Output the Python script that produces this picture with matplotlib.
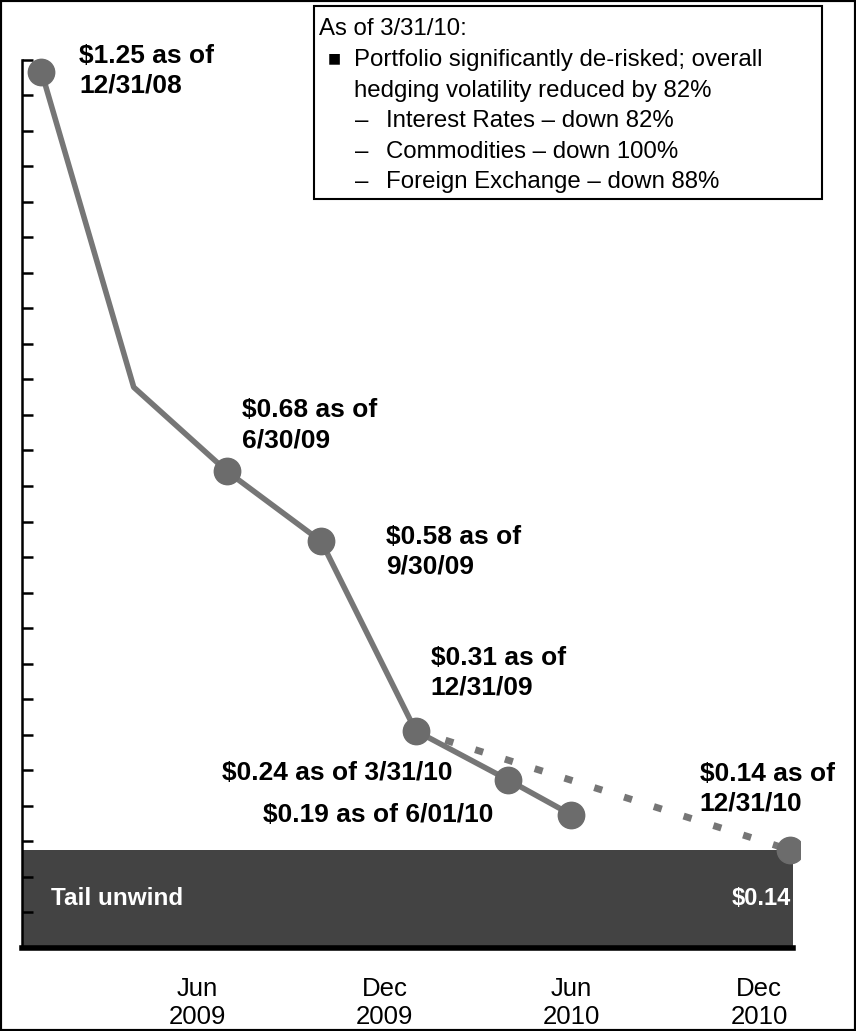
import datetime as dt
import matplotlib
matplotlib.use("Agg")
import matplotlib.pyplot as plt
import matplotlib.dates as mdates
from matplotlib.patches import Rectangle

plt.rcParams['font.family'] = ['Liberation Sans', 'DejaVu Sans']

# hedging volatility, $ per quarter-end
dates = [dt.date(2008, 12, 31), dt.date(2009, 3, 31), dt.date(2009, 6, 30),
         dt.date(2009, 9, 30), dt.date(2009, 12, 31), dt.date(2010, 3, 31),
         dt.date(2010, 6, 1)]
values = [1.25, 0.80, 0.68, 0.58, 0.31, 0.24, 0.19]

# projection to year end 2010
proj_dates = [dt.date(2009, 12, 31), dt.date(2010, 12, 31)]
proj_values = [0.31, 0.14]

# labelled points
lab_dates = [dt.date(2008, 12, 31), dt.date(2009, 6, 30), dt.date(2009, 9, 30),
             dt.date(2009, 12, 31), dt.date(2010, 3, 31), dt.date(2010, 6, 1),
             dt.date(2010, 12, 31)]
lab_values = [1.25, 0.68, 0.58, 0.31, 0.24, 0.19, 0.14]
lab_texts = ["$1.25 as of\n12/31/08", "$0.68 as of\n6/30/09", "$0.58 as of\n9/30/09",
             "$0.31 as of\n12/31/09", "$0.24 as of 3/31/10", "$0.19 as of 6/01/10",
             "$0.14 as of\n12/31/10"]
lab_offsets = [(38, 1, 'left'), (15, 46, 'left'), (65, -10, 'left'), (15, 58, 'left'),
               (-55, 7, 'right'), (-78, 0, 'right'), (-90, 61, 'left')]

tail_value = 0.14
tick_dates = [dt.date(2009, 6, 1), dt.date(2009, 12, 1), dt.date(2010, 6, 1), dt.date(2010, 12, 1)]
tick_labels = ["Jun\n2009", "Dec\n2009", "Jun\n2010", "Dec\n2010"]

box_lines = ["As of 3/31/10:",
             "Portfolio significantly de-risked; overall",
             "hedging volatility reduced by 82%",
             "Interest Rates \u2013 down 82%",
             "Commodities \u2013 down 100%",
             "Foreign Exchange \u2013 down 88%"]

W, H = 856, 1031
fig = plt.figure(figsize=(W / 100, H / 100), dpi=100)
ax = fig.add_axes([22 / W, 83 / H, 778 / W, 948 / H])

x0 = mdates.date2num(dt.date(2008, 12, 12))
x1 = mdates.date2num(dt.date(2011, 1, 10))
ax.set_xlim(x0, x1)
ax.set_ylim(0, 1.3524)

line_col = '#767676'
# tail unwind block
bar_end = mdates.date2num(dt.date(2011, 1, 3))
ax.bar(x0, tail_value, width=bar_end - x0, align='edge', color='#434343', zorder=1)
ax.text(x0 + 28, tail_value / 2, "Tail unwind", color='white', fontsize=17.5,
        fontweight='bold', va='center', ha='left')
ax.text(bar_end - 2, tail_value / 2, "$%.2f" % tail_value, color='white', fontsize=17,
        fontweight='bold', va='center', ha='right')

ax.plot(mdates.date2num(proj_dates), proj_values, color=line_col, lw=5,
        linestyle=(0, (1.2, 3.3)), zorder=2)
ax.plot(mdates.date2num(dates), values, color=line_col, lw=4, zorder=3)
ax.plot(mdates.date2num(lab_dates), lab_values, 'o', ms=19, color='#6c6c6c', zorder=4)

for d, v, t, (dx, dy, ha) in zip(lab_dates, lab_values, lab_texts, lab_offsets):
    ax.annotate(t, (mdates.date2num(d), v), xytext=(dx, dy), textcoords='offset pixels',
                ha=ha, va='center', fontsize=19, fontweight='bold', linespacing=1.3)

for s in ['top', 'right']:
    ax.spines[s].set_visible(False)
ax.spines['left'].set_bounds(0, 1.267)
ax.spines['left'].set_linewidth(1.8)
ax.spines['bottom'].set_bounds(x0, bar_end)
ax.spines['bottom'].set_linewidth(4)
ax.set_yticks([i * 0.0507 for i in range(26)])
ax.tick_params(axis='y', direction='in', length=8, width=1.8, labelleft=False)
ax.set_xticks(mdates.date2num(tick_dates))
ax.set_xticklabels(tick_labels, fontsize=18.5, linespacing=1.2)
ax.tick_params(axis='x', length=0, pad=21)

# text box
def fx(x):
    return x / W

def fy(y):
    return 1 - y / H

fig.add_artist(Rectangle((fx(314), fy(199)), (822 - 314) / W, (199 - 6) / H,
                         transform=fig.transFigure, fill=False, lw=1.5, ec='black'))
rows = [29, 60, 91, 121, 152, 182]
fs = 17.3
fig.text(fx(319), fy(rows[0]), box_lines[0], fontsize=fs, va='center')
fig.text(fx(328), fy(rows[1] - 2), "\u25a0", fontsize=10, va='center',
         family=['DejaVu Sans'])
fig.text(fx(354), fy(rows[1]), box_lines[1], fontsize=fs, va='center')
fig.text(fx(354), fy(rows[2]), box_lines[2], fontsize=fs, va='center')
for r, t in zip(rows[3:], box_lines[3:]):
    fig.text(fx(355), fy(r), "\u2013", fontsize=fs, va='center')
    fig.text(fx(386), fy(r), t, fontsize=fs, va='center')

# outer frame
fig.add_artist(Rectangle((0, 0), 1, 1, transform=fig.transFigure, fill=False,
                         lw=3, ec='black'))

fig.savefig("out.png", dpi=100)
